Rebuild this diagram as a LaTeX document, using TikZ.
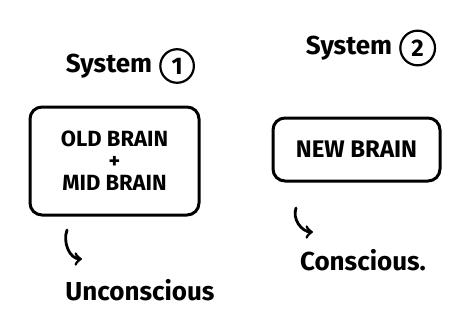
\documentclass[tikz,border=0pt]{standalone}
\usepackage{fontspec}
\setmainfont{Fira Sans}
\usepackage{tikz}
\usetikzlibrary{positioning}

\tikzset{
    brainbox/.style={draw, line width=1.5pt, rounded corners=6pt, align=center,
        font=\fontsize{11}{11}\selectfont\bfseries},
    sysnum/.style={draw, circle, line width=1.1pt, inner sep=2.5pt,
        font=\fontsize{12}{12}\selectfont\bfseries},
    hand/.style={font=\fontsize{13}{13}\selectfont\bfseries},
    hook/.style={->, line width=1.4pt, line cap=round}
}

\begin{document}
\begin{tikzpicture}[x=0.5pt, y=0.5pt]
    \useasboundingbox (0,0) rectangle (474,322);

    % left side
    \node[hand] (sys1) at (109,256) {System};
    \node[sysnum, right=0pt of sys1] (num1) {1};

    \node[brainbox, minimum width=84.5pt, minimum height=54pt] (old)
        at (114.5,161) {OLD BRAIN\\+\\MID BRAIN};

    \node[hand] (uncon) at (140,32) {Unconscious};

    \coordinate (u1) at (67,92);
    \coordinate (u2) at (82,63);
    \draw[hook] (u1) to[out=250, in=180] (u2);

    % right side
    \node[hand] (sys2) at (349,274) {System};
    \node[sysnum, right=0pt of sys2] (num2) {2};

    \node[brainbox, font=\fontsize{12}{14}\selectfont\bfseries,
        minimum width=83.5pt, minimum height=31.5pt] (new)
        at (356.5,172.5) {NEW BRAIN};

    \node[hand] (con) at (363,62) {Conscious.};

    \coordinate (c1) at (296,114);
    \coordinate (c2) at (313,90);
    \draw[hook] (c1) to[out=250, in=180] (c2);

\end{tikzpicture}
\end{document}
